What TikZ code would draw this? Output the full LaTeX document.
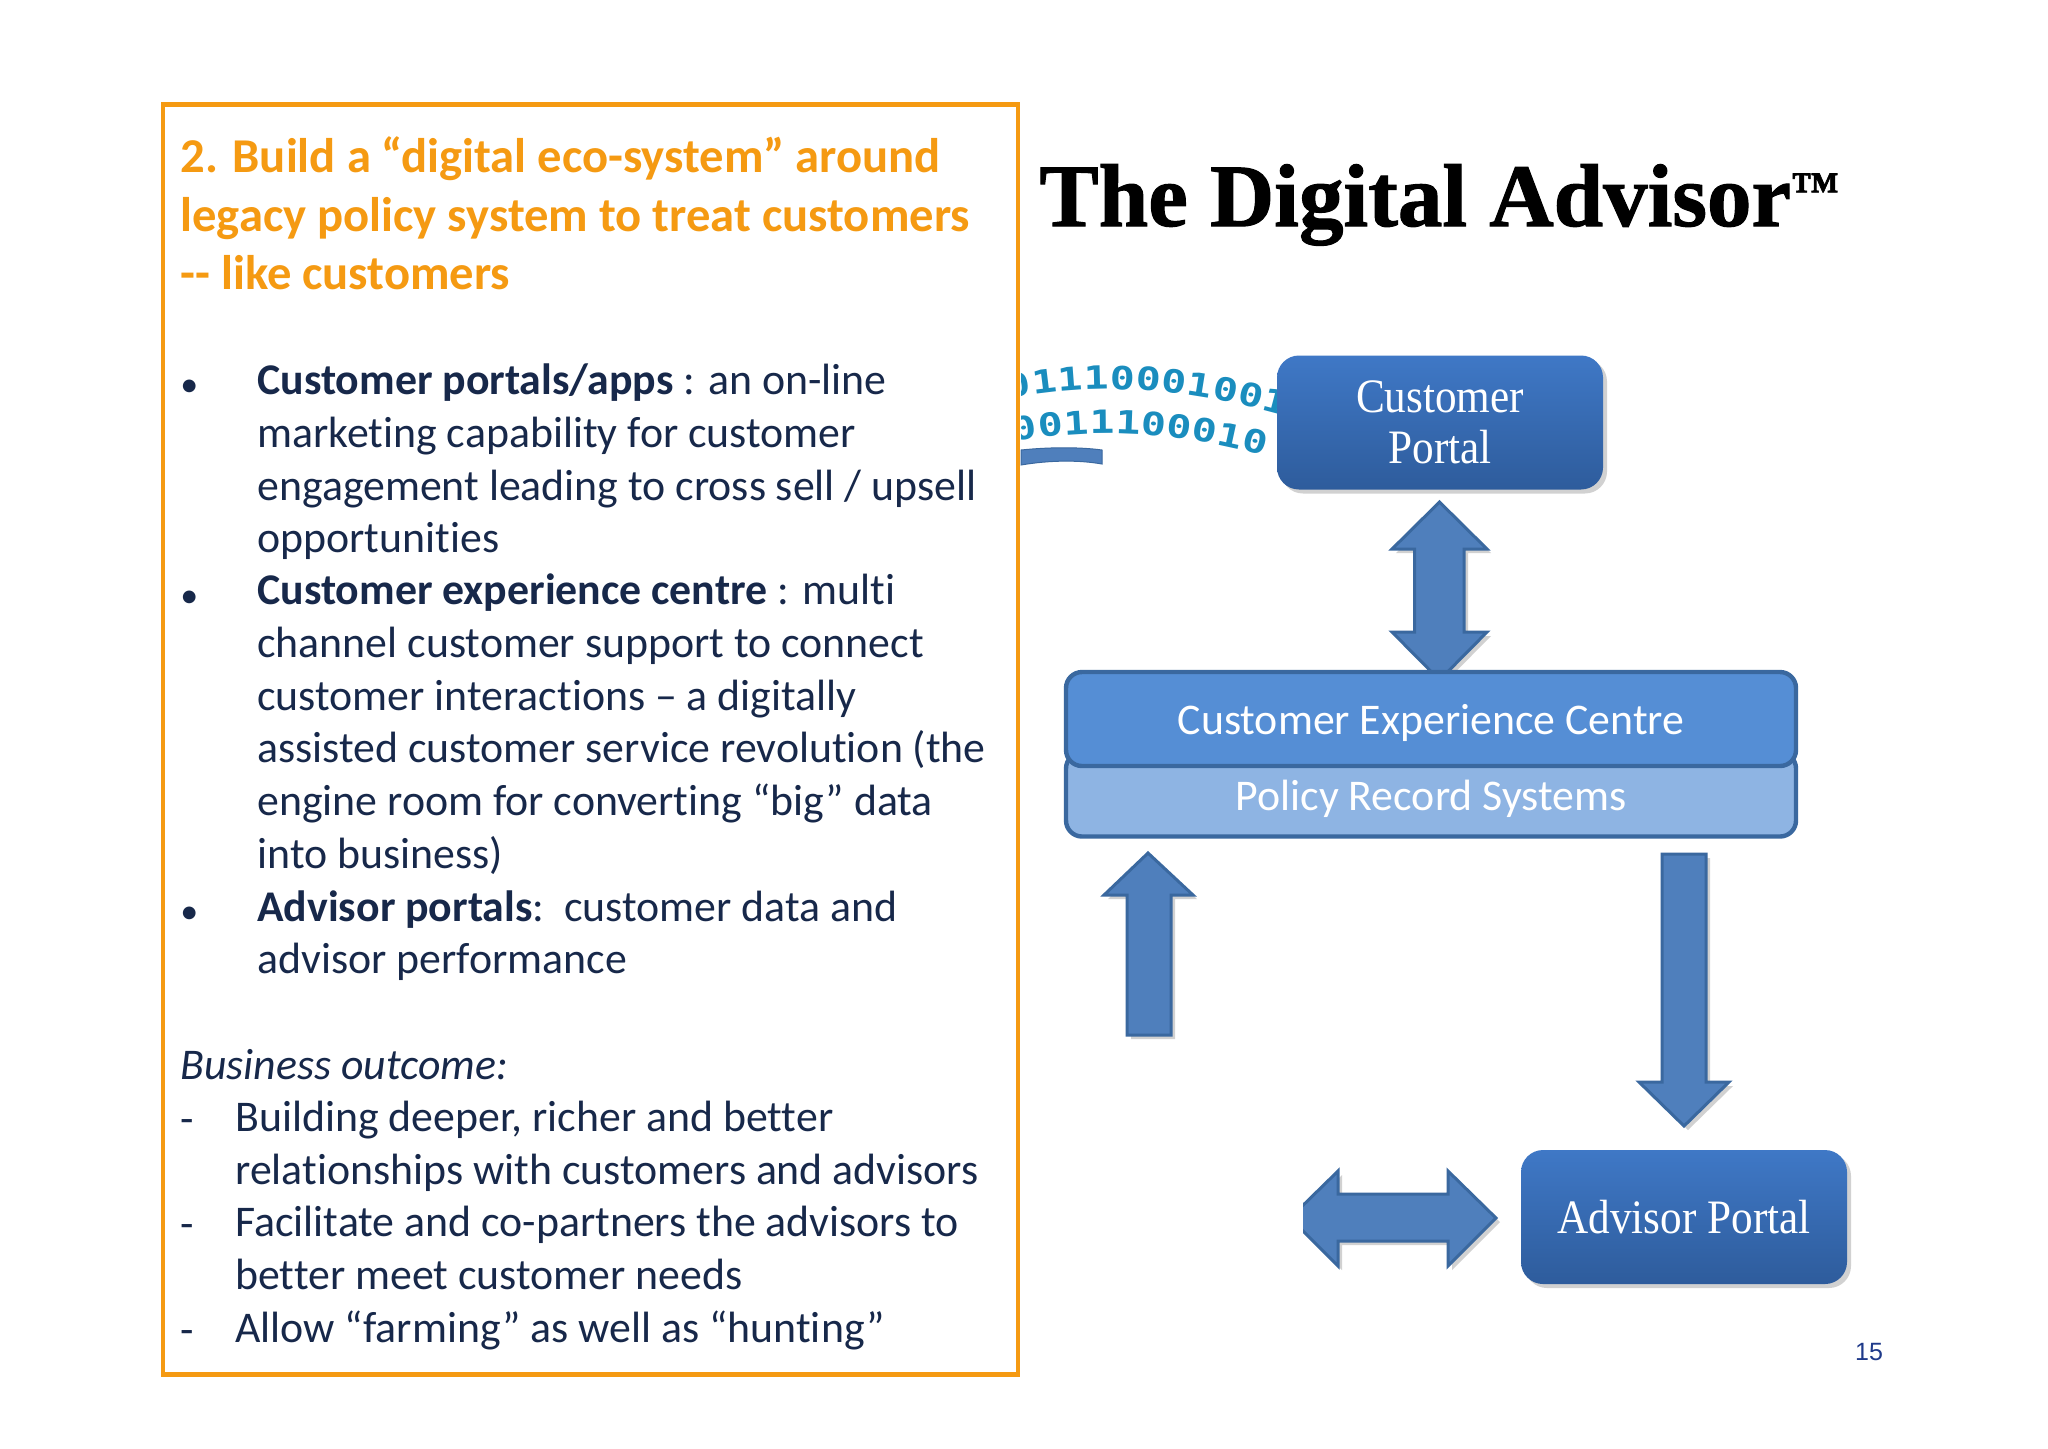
\documentclass[tikz,border=0pt]{standalone}
\usepackage{fontspec}
\usetikzlibrary{shadows,decorations.text}
\setmainfont[Ligatures={TeX,NoCommon}]{Carlito}
\newfontfamily\titlefont[FakeBold=1.2]{Liberation Serif Bold}
\newfontfamily\portalfont[FakeStretch=0.9]{Liberation Serif}
\newfontfamily\binfont[FakeStretch=1.3]{DejaVu Sans Mono Bold}
\newfontfamily\pagefont{Liberation Sans}
\definecolor{framecol}{HTML}{F59A12}
\definecolor{inkcol}{HTML}{17284A}
\definecolor{arrowcol}{HTML}{4F7FBC}
\definecolor{edgecol}{HTML}{3A689F}
\definecolor{bincol}{HTML}{1A8DBE}
\definecolor{portaltop}{HTML}{3F78C6}
\definecolor{portalbot}{HTML}{2E5C9C}
\definecolor{policycol}{HTML}{8EB4E3}
\definecolor{centrecol}{HTML}{558ED5}
\definecolor{pagecol}{HTML}{1F3A8A}
\tikzset{
  softshadow/.style={drop shadow={shadow xshift=2pt,shadow yshift=-2pt,fill=black,opacity=0.18}},
  blockarrow/.style={draw=edgecol,line width=1.5pt,fill=arrowcol,softshadow,line join=miter},
  portalbox/.style={rounded corners=11pt,top color=portaltop,bottom color=portalbot,
    minimum width=163pt,minimum height=67pt,softshadow,text=white,align=center,inner sep=0pt,
    font=\portalfont\fontsize{24}{25.5}\selectfont},
  layerbox/.style={draw=edgecol,line width=2.2pt,rounded corners=8pt,minimum width=365pt,inner sep=0pt},
  layertext/.style={text=white,inner sep=0pt,font=\fontsize{21.9}{24}\selectfont},
  bodytext/.style={anchor=north west,inner sep=0pt,align=left,text=inkcol,font=\fontsize{21.9}{26.35}\selectfont},
  marker/.style={anchor=base west,inner sep=0pt,text=inkcol,font=\fontsize{18}{26.35}\selectfont},
  binrow/.style={decorate,decoration={text along path,text align={fit to path},text color=bincol,text={|\binfont\fontsize{16}{16}\selectfont|#1}}}
}
\begin{document}
\begin{tikzpicture}[x=0.5pt,y=-0.5pt]
\useasboundingbox[fill=white] (0,0) rectangle (2048,1448);
% stream of digits
\begin{scope}
  \clip (1021,340) rectangle (1290,480);
  \path[binrow=01110001001] (1008,399) .. controls (1090,384) and (1170,384) .. (1285,416);
  \path[binrow=0011100010] (1014,442) .. controls (1090,428) and (1170,430) .. (1265,456);
\end{scope}
\draw[draw=edgecol,line width=0.5pt,fill=arrowcol] (1021,450) .. controls (1050,447) and (1080,447) .. (1102,450)
  -- (1102,464) .. controls (1080,460) and (1050,460) .. (1021,465) -- cycle;
% left panel
\node[draw=framecol,line width=2.4pt,minimum width=427.5pt,minimum height=635pt,inner sep=0pt] (panel) at (590.5,739.5) {};
\node[anchor=north west,inner sep=0pt,align=left,text=framecol,font=\fontsize{24.3}{29.4}\selectfont\bfseries] (heading) at (180,136) {2. Build a “digital eco-system” around\\legacy policy system to treat customers\\-{}- like customers};
\node[bodytext] (portals) at (257,363.5) {\textbf{Customer portals/apps} : an on-line\\marketing capability for customer\\engagement leading to cross sell / upsell\\opportunities};
\node[bodytext] (centre) at (257,573.5) {\textbf{Customer experience centre} : multi\\channel customer support to connect\\customer interactions – a digitally\\assisted customer service revolution (the\\engine room for converting “big” data\\into business)};
\node[bodytext] (advisors) at (257,890) {\textbf{Advisor portals}:~~customer data and\\advisor performance};
\node[bodytext] (outcome) at (180,1048.5) {\textit{Business outcome:}};
\node[bodytext] (deeper) at (235,1101) {Building deeper, richer and better\\relationships with customers and advisors};
\node[bodytext] (partners) at (235,1206) {Facilitate and co-partners the advisors to\\better meet customer needs};
\node[bodytext] (farming) at (235,1310.5) {Allow “farming” as well as “hunting”};
\foreach \n/\y in {a/396,b/607,c/923} \node[marker] (bullet\n) at (180,\y) {•};
\foreach \n/\y in {a/1133,b/1238,c/1344} \node[marker,font=\fontsize{21.9}{26.35}\selectfont] (dash\n) at (180,\y) {-};
% right panel
\node[anchor=base west,inner sep=0pt,font=\titlefont\fontsize{44.5}{45}\selectfont] (title) at (1039,226) {The Digital Advisor\raisebox{10.5pt}{\fontsize{24}{24}\selectfont ™}};
\node[portalbox] (custportal) at (1440,422.5) {Customer\\Portal};
\draw[blockarrow] (1439.5,502) -- (1487,549) -- (1464,549) -- (1464,632) -- (1487,632) -- (1439.5,680) -- (1392,632) -- (1414.5,632) -- (1414.5,549) -- (1392,549) -- cycle;
\node[layerbox,fill=policycol,minimum height=42pt] (policy) at (1431,794.5) {};
\node[layerbox,fill=centrecol,minimum height=47pt] (experience) at (1431,719) {};
\node[layertext] (experiencetext) at (1431,723) {Customer Experience Centre};
\node[layertext] (policytext) at (1431,799) {Policy Record Systems};
\draw[blockarrow] (1148,853) -- (1193,895) -- (1171,895) -- (1171,1035) -- (1127,1035) -- (1127,895) -- (1104,895) -- cycle;
\draw[blockarrow] (1662,854) -- (1706,854) -- (1706,1082) -- (1729,1082) -- (1684,1126) -- (1639,1082) -- (1662,1082) -- cycle;
\begin{scope}
  \clip (1303,1140) rectangle (1510,1290);
  \draw[blockarrow] (1496,1218) -- (1448,1171) -- (1448,1194) -- (1338,1194) -- (1338,1171) -- (1290,1218) -- (1338,1266) -- (1338,1241) -- (1448,1241) -- (1448,1266) -- cycle;
\end{scope}
\node[portalbox] (advportal) at (1684,1217) {Advisor Portal};
\node[inner sep=0pt,text=pagecol,font=\pagefont\fontsize{12.5}{15}\selectfont] (pagenum) at (1869,1352) {15};
\end{tikzpicture}
\end{document}
